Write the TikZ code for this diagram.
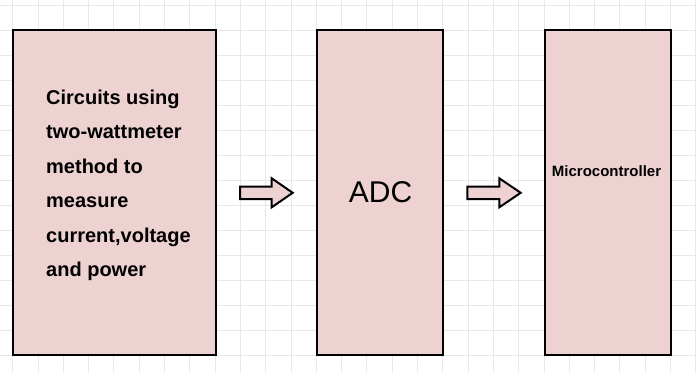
\documentclass[tikz,border=0pt]{standalone}
\usepackage{fontspec}
\setmainfont{Liberation Sans}
\definecolor{boxfill}{HTML}{EED2D2}
\definecolor{gridc}{HTML}{E8E8E8}
\begin{document}
\begin{tikzpicture}[x=1pt,y=-1pt,
  box/.style={draw=black,line width=2pt,fill=boxfill,rectangle,minimum height=325pt,inner sep=0pt},
  blockarrow/.style={draw=black,line width=2pt,fill=boxfill,line join=miter},
  bodytext/.style={font=\bfseries\fontsize{20}{24}\selectfont,anchor=base west,inner sep=0pt}]
\fill[white] (0,0) rectangle (696,372);
\useasboundingbox (0,0) rectangle (696,372);
% grid
\foreach \i in {0,...,27} {\draw[gridc,line width=1pt] ({12.7+25.3*\i},0) -- ({12.7+25.3*\i},372);}
\foreach \j in {0,...,14} {\draw[gridc,line width=1pt] (0,{5+25*\j}) -- (696,{5+25*\j});}
% boxes
\node[box,minimum width=203pt] (b1) at (114.5,192.5) {};
\node[box,minimum width=126pt] (b2) at (380,192.5) {};
\node[box,minimum width=126pt] (b3) at (608,192.5) {};
% text of box 1
\node[bodytext] (t1) at (46,104) {Circuits using};
\node[bodytext] (t2) at (46,138.5) {two-wattmeter};
\node[bodytext] (t3) at (46,173) {method to};
\node[bodytext] (t4) at (46,207.5) {measure};
\node[bodytext] (t5) at (46,242) {current,voltage};
\node[bodytext] (t6) at (46,276.5) {and power};
\node[font=\fontsize{30}{36}\selectfont,anchor=base,inner sep=0pt] (adc) at (380.5,202.3) {ADC};
\node[font=\bfseries\fontsize{15}{18}\selectfont,anchor=base,inner sep=0pt] (mc) at (606.5,176.7) {Microcontroller};
% block arrows
\coordinate (a1) at (240,192.8);
\coordinate (a2) at (467.3,192.8);
\draw[blockarrow] (a1) ++(0,-6.3) -- ++(31.7,0) -- ++(0,-8.2) -- ++(21,14.5) -- ++(-21,14.5) -- ++(0,-8.2) -- ++(-31.7,0) -- cycle;
\draw[blockarrow] (a2) ++(0,-6.3) -- ++(32,0) -- ++(0,-8.2) -- ++(21.4,14.5) -- ++(-21.4,14.5) -- ++(0,-8.2) -- ++(-32,0) -- cycle;
\end{tikzpicture}
\end{document}
